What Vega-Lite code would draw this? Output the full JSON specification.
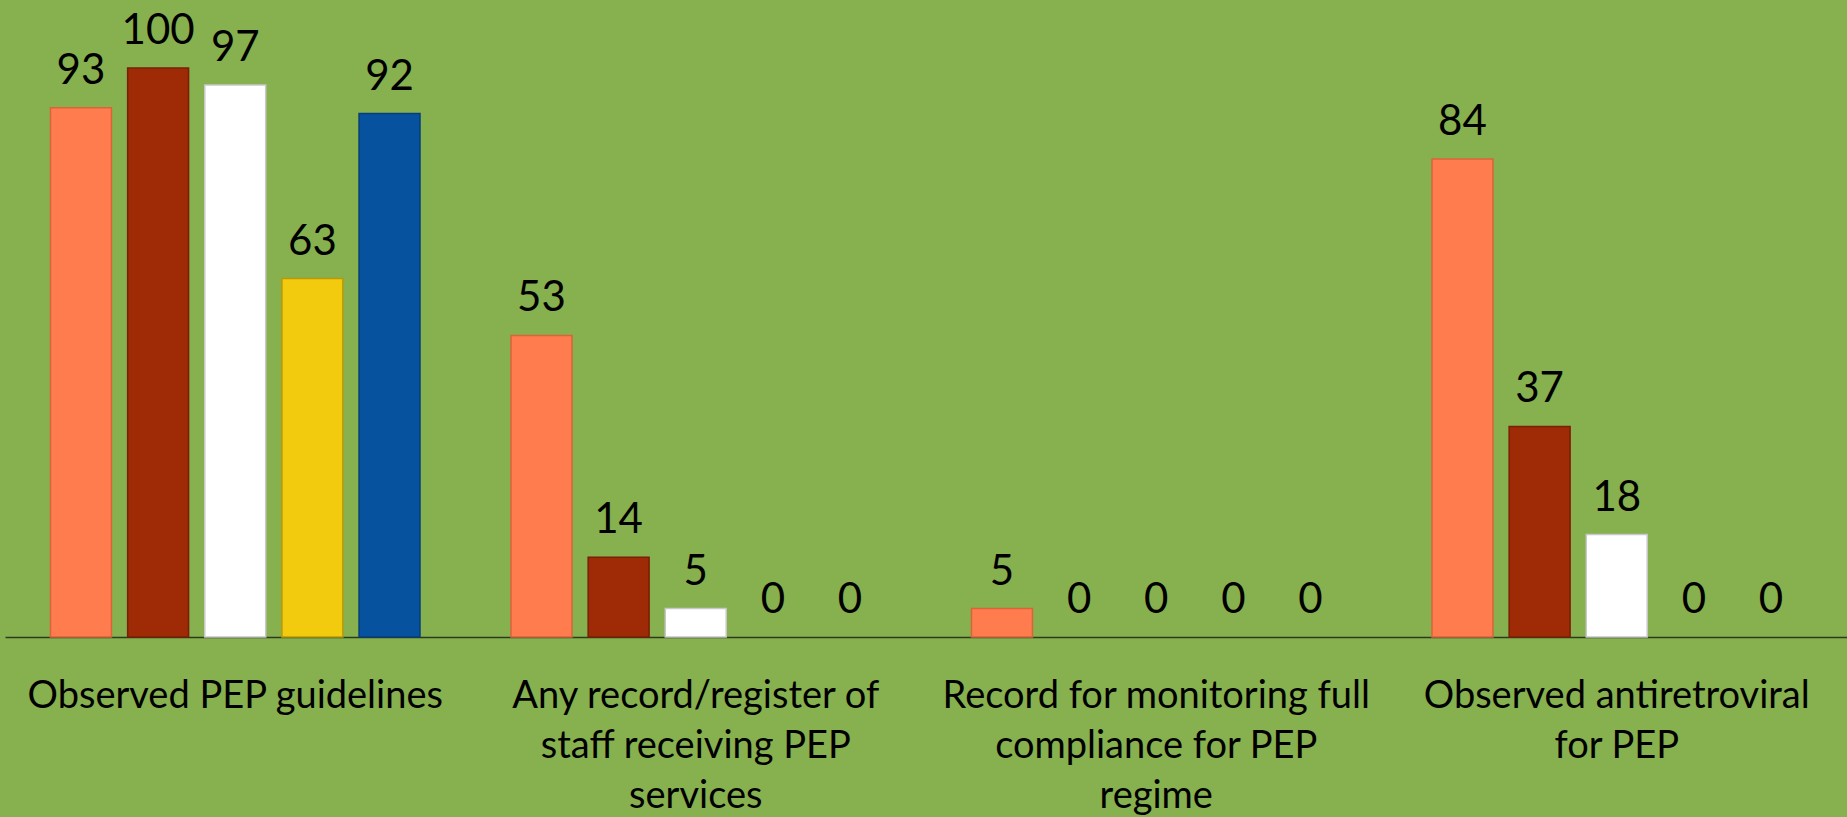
{
  "$schema": "https://vega.github.io/schema/vega-lite/v6.json",
  "width": 1842,
  "height": 569,
  "autosize": {"type": "none"},
  "padding": {"left": 5, "top": 68, "right": 0, "bottom": 180},
  "background": "#87B04F",
  "config": {"view": {"stroke": null}},
  "data": {
    "values": [
      {"indicator": "Observed PEP guidelines", "series": "S1", "value": 93},
      {"indicator": "Observed PEP guidelines", "series": "S2", "value": 100},
      {"indicator": "Observed PEP guidelines", "series": "S3", "value": 97},
      {"indicator": "Observed PEP guidelines", "series": "S4", "value": 63},
      {"indicator": "Observed PEP guidelines", "series": "S5", "value": 92},
      {"indicator": "Any record/register of staff receiving PEP services", "series": "S1", "value": 53},
      {"indicator": "Any record/register of staff receiving PEP services", "series": "S2", "value": 14},
      {"indicator": "Any record/register of staff receiving PEP services", "series": "S3", "value": 5},
      {"indicator": "Any record/register of staff receiving PEP services", "series": "S4", "value": 0},
      {"indicator": "Any record/register of staff receiving PEP services", "series": "S5", "value": 0},
      {"indicator": "Record for monitoring full compliance for PEP regime", "series": "S1", "value": 5},
      {"indicator": "Record for monitoring full compliance for PEP regime", "series": "S2", "value": 0},
      {"indicator": "Record for monitoring full compliance for PEP regime", "series": "S3", "value": 0},
      {"indicator": "Record for monitoring full compliance for PEP regime", "series": "S4", "value": 0},
      {"indicator": "Record for monitoring full compliance for PEP regime", "series": "S5", "value": 0},
      {"indicator": "Observed antiretroviral for PEP", "series": "S1", "value": 84},
      {"indicator": "Observed antiretroviral for PEP", "series": "S2", "value": 37},
      {"indicator": "Observed antiretroviral for PEP", "series": "S3", "value": 18},
      {"indicator": "Observed antiretroviral for PEP", "series": "S4", "value": 0},
      {"indicator": "Observed antiretroviral for PEP", "series": "S5", "value": 0}
    ]
  },
  "encoding": {
    "x": {
      "field": "indicator",
      "type": "nominal",
      "sort": null,
      "scale": {"paddingInner": 0, "paddingOuter": 0},
      "axis": {
        "title": null,
        "labelAngle": 0,
        "ticks": false,
        "domain": true,
        "domainColor": "#2E3A20",
        "domainWidth": 1.5,
        "labelFont": "Lato",
        "labelFontSize": 38,
        "labelColor": "#000000",
        "labelPadding": 40,
        "labelBaseline": "top",
        "labelLineHeight": 50,
        "labelLimit": 0,
        "labelExpr": "datum.value == 'Any record/register of staff receiving PEP services' ? ['Any record/register of', 'staff receiving PEP', 'services'] : datum.value == 'Record for monitoring full compliance for PEP regime' ? ['Record for monitoring full', 'compliance for PEP', 'regime'] : datum.value == 'Observed antiretroviral for PEP' ? ['Observed antiretroviral', 'for PEP'] : datum.value"
      }
    },
    "xOffset": {
      "field": "series",
      "type": "nominal",
      "sort": null,
      "scale": {"paddingInner": 0.21, "paddingOuter": 0.59}
    },
    "y": {
      "field": "value",
      "type": "quantitative",
      "scale": {"domain": [0, 100]},
      "axis": null
    }
  },
  "layer": [
    {
      "mark": {"type": "bar"},
      "encoding": {
        "color": {
          "field": "series",
          "type": "nominal",
          "scale": {
            "domain": ["S1", "S2", "S3", "S4", "S5"],
            "range": ["#FF7C4E", "#9E2A06", "#FFFFFF", "#F2CA0E", "#07529F"]
          },
          "legend": null
        },
        "stroke": {
          "field": "series",
          "type": "nominal",
          "scale": {
            "domain": ["S1", "S2", "S3", "S4", "S5"],
            "range": ["#D9643A", "#7A1F04", "#C8C8C8", "#B89A08", "#053E7A"]
          },
          "legend": null
        },
        "strokeWidth": {
          "condition": {"test": "datum.value == 0", "value": 0},
          "value": 1.5
        }
      }
    },
    {
      "mark": {
        "type": "text",
        "baseline": "alphabetic",
        "align": "center",
        "dy": -24,
        "font": "Lato",
        "fontSize": 42,
        "color": "#000000"
      },
      "encoding": {
        "text": {"field": "value", "type": "quantitative"}
      }
    }
  ]
}
